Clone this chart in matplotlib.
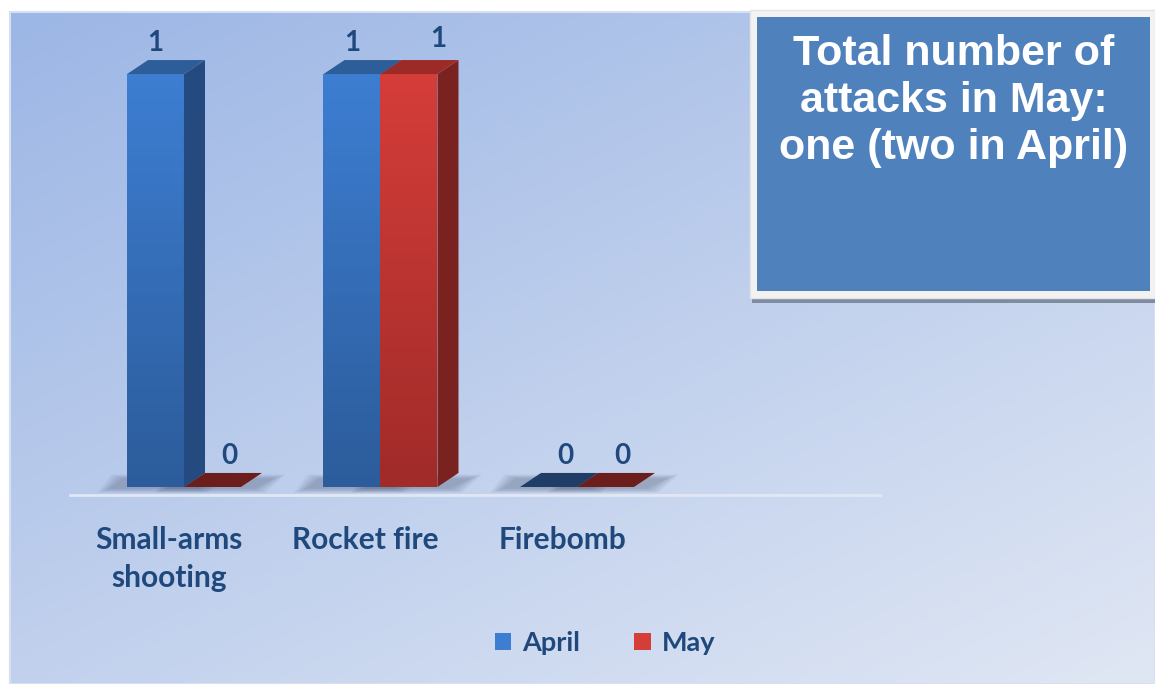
import numpy as np
import matplotlib
matplotlib.use("Agg")
import matplotlib.pyplot as plt
from matplotlib.patches import Polygon, Rectangle, Patch

categories = ["Small-arms\nshooting", "Rocket fire", "Firebomb"]
april = [1, 1, 0]
may = [0, 1, 0]
series_names = ["April", "May"]
box_text = "Total number of\nattacks in May:\none (two in April)"

W, H = 1155, 684
fig = plt.figure(figsize=(W / 100, H / 100), dpi=100)

# background (pixel coords)
bg = fig.add_axes([0, 0, 1, 1])
bg.set_xlim(0, W)
bg.set_ylim(H, 0)
bg.axis("off")
yy, xx = np.mgrid[0:1:200j, 0:1:200j]
t = (0.55 * yy + 0.45 * xx)
c0 = np.array([0x9c, 0xb6, 0xe5]) / 255
c1 = np.array([0xe0, 0xe7, 0xf4]) / 255
grad = c0[None, None, :] * (1 - t[..., None]) + c1[None, None, :] * t[..., None]
bg.imshow(grad, extent=[10, W, H, 12], aspect="auto", zorder=0)
bg.add_patch(Rectangle((10, 12), W - 10, H - 12, fill=False, ec="#d6e0f2", lw=1.5, zorder=1))

# info box
bg.add_patch(Rectangle((752, 297), W - 752, 6, fc="#7f8ba0", ec="none", zorder=2))
bg.add_patch(Rectangle((750, 10), W - 750, 288, fc="#f2f2f2", ec="#e4e4e4", lw=1, zorder=3))
bg.add_patch(Rectangle((757, 17), 1150 - 757, 274, fc="#4f81bd", ec="none", zorder=4))
bg.text(954, 101, box_text, ha="center", va="center", color="white", fontsize=31,
        fontweight="bold", family=["Liberation Sans", "DejaVu Sans"], linespacing=1.24, zorder=5)

# main chart axes
ax = fig.add_axes([70 / W, (H - 495) / H, 810 / W, 475 / H])
ax.patch.set_alpha(0)
x = np.arange(len(categories))
w = 0.29
dx, dy = 0.107, 0.034
front_cols = [("#3d7ed2", "#2c5c9b"), ("#d53d39", "#a02b29")]
side_cols = ["#244a80", "#7a2220"]
top_cols = ["#2d5e99", "#9c2a27"]
flat_cols = ["#1f3d66", "#6b1e1c"]
label_col = "#1f497d"
font = ["Lato", "DejaVu Sans"]


def vgrad(x0, y0, x1, y1, ctop, cbot, z):
    ct = np.array(matplotlib.colors.to_rgb(ctop))
    cb = np.array(matplotlib.colors.to_rgb(cbot))
    s = np.linspace(0, 1, 100)[:, None]
    img = (ct * (1 - s) + cb * s)[:, None, :]
    ax.imshow(img, extent=[x0, x1, y0, y1], aspect="auto", zorder=z, origin="upper")


for i in range(len(categories)):
    for k, vals in enumerate([april, may]):
        v = vals[i]
        x0 = x[i] - w + k * w
        x1 = x0 + w
        z = 3 + i * 2 + k * 0.1
        # soft shadow at base
        for s in range(6):
            e = 0.012 * s
            ax.add_patch(Polygon([(x0 - 0.09 - e, -0.004 - e / 6), (x1 + dx * 0.6 + e, -0.004 - e / 6),
                                  (x1 + dx + 0.06 + e, dy * 0.6 + e / 6), (x0 - 0.02 - e, dy * 0.6 + e / 6)],
                                 closed=True, fc="#3a4660", ec="none", alpha=0.06, zorder=2))
        if v > 0:
            vgrad(x0, 0, x1, v, front_cols[k][0], front_cols[k][1], z)
            ax.add_patch(Polygon([(x1, 0), (x1 + dx, dy), (x1 + dx, v + dy), (x1, v)],
                                 closed=True, fc=side_cols[k], ec="none", zorder=z))
            ax.add_patch(Polygon([(x0, v), (x1, v), (x1 + dx, v + dy), (x0 + dx, v + dy)],
                                 closed=True, fc=top_cols[k], ec="none", zorder=z))
            lx = x0 + w / 2 + (dx * 1.4 if k == 1 else 0)
            ax.annotate(str(v), (lx, v + dy), xytext=(0, 3 + 3 * k), textcoords="offset points",
                        ha="center", va="bottom", fontsize=20, fontweight="bold", color=label_col,
                        family=font, zorder=20)
        else:
            ax.add_patch(Polygon([(x0, 0), (x1, 0), (x1 + dx, dy), (x0 + dx, dy)],
                                 closed=True, fc=flat_cols[k], ec="none", zorder=z))
            ax.annotate(str(v), (x0 + w / 2 + dx * 0.8, dy), xytext=(0, 3), textcoords="offset points",
                        ha="center", va="bottom", fontsize=20, fontweight="bold", color=label_col,
                        family=font, zorder=20)

ax.set_xlim(-0.58, 3.542)
ax.set_ylim(-0.0194, 1.131)
for sp in ["top", "right", "left"]:
    ax.spines[sp].set_visible(False)
ax.spines["bottom"].set_color("#e1e8f4")
ax.spines["bottom"].set_linewidth(2)
ax.set_yticks([])
ax.set_xticks(x - 0.075)
ax.set_xticklabels(categories, fontsize=21.5, fontweight="bold", color=label_col,
                   family=font, linespacing=1.45, va="top")
ax.tick_params(axis="x", length=0, pad=22)

handles = [Patch(fc=front_cols[0][0], ec="none"), Patch(fc=front_cols[1][0], ec="none")]
leg = fig.legend(handles, series_names, loc="center", bbox_to_anchor=(605 / W, (H - 643) / H),
                 ncol=2, frameon=False, handlelength=0.6, handleheight=0.6, columnspacing=2.0,
                 handletextpad=0.4, prop={"family": font, "weight": "bold", "size": 19.5})
for txt in leg.get_texts():
    txt.set_color(label_col)

fig.savefig("out.png", dpi=100)
